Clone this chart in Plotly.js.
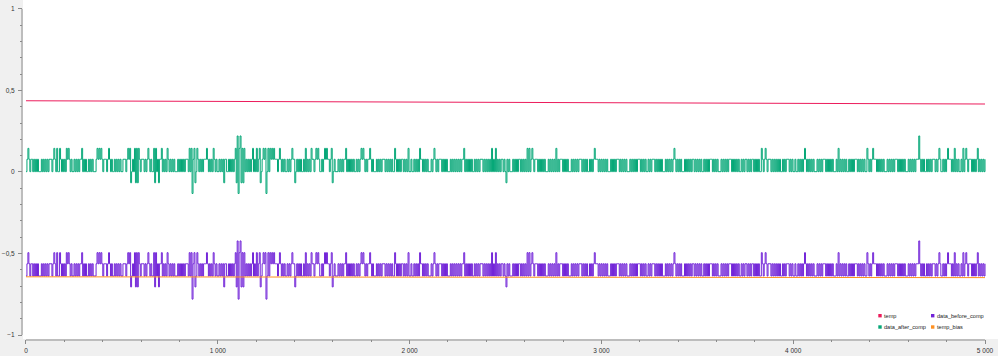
<!DOCTYPE html>
<html>
<head>
<meta charset="utf-8">
<script src="https://cdn.plot.ly/plotly-3.0.1.min.js"></script>
<style>
html,body{margin:0;padding:0;background:#f0f0f0;}
#chart{width:998px;height:356px;}
</style>
</head>
<body>
<div id="chart"></div>
<script>
// ---------------- data ----------------
const seriesNames = ["temp", "data_before_comp", "data_after_comp", "temp_bias"];
const xMax = 5000;

// temp: slow decline
const tempX = [0, 1000, 2000, 3000, 3500, 4000, 4500, 5000];
const tempY = [0.437, 0.433, 0.430, 0.427, 0.425, 0.423, 0.420, 0.417];

// temp_bias: almost constant
const biasX = [0, 2500, 5000];
const biasY = [-0.643, -0.645, -0.648];

// quantised levels of the two compensated signals (code 1..6)
const afterLevels  = [-0.132, -0.066, 0.002, 0.078, 0.145, 0.221];
const beforeLevels = [-0.780, -0.705, -0.638, -0.563, -0.495, -0.423];

// base toggling pattern, one code per ~5 samples (3 = low, 4 = high)
const baseCodes = [
"34343443434343334343434344434343433343434344343433",
"43434344434343343434333434343434443434343343434343",
"34443434343433434343444343434343343434344434343343",
"43434333434343434443434343433434343444343434334343",
"34343434433434343444343433343434343443434343334343",
"43433434344434343434334343434443434343343434343444",
"34343433434343443434343334343434443434343433434344",
"43434344343433343434344434343434333434343443434343",
"34334343434443434343334343434344434343433343434343",
"43434443434343433434343444343434343334343434344343",
"34343334343434434343433343434344434343434333434343",
"43434344434343433343434343444343434334343434443434",
"34343433343434344434343434333434343434443434343343",
"43444343434343334343434344434343433343434343443434",
"34343343434344434343433343434343444343434343343434",
"43434344343434333434343444343434343433434344434343",
"34334343434443434343433343434344434343434333434343",
"43434334343434443434343433343434344434343434333434",
"34343444343434343334343434344434343433434343444343",
"43433434343444343434343343434343444343434334343434"
].join("");

// spikes: sample position and level code
const spikeAt = [10,145,160,175,210,220,290,370,380,390,430,530,540,545,565,570,575,580,585,635,665,670,675,690,705,735,850,860,865,875,880,890,940,975,
1030,1090,1095,1100,1105,1110,1115,1120,1125,1130,1135,1180,1200,1215,1220,1235,1245,1250,1260,1270,1280,1290,1320,1385,1400,1455,1485,1510,1520,1555,1565,1590,1595,1665,1745,1755,1790,1920,1990,
2050,2125,2280,2425,2445,2505,2615,2625,2640,2765,2965,
3380,3835,3855,
4060,4235,4385,4415,4655,4760,4805,4840,4885,4900,4960];
const spikeCode = [5,5,5,5,5,5,5,5,5,5,5,5,5,2,5,2,5,2,5,5,5,2,5,2,5,5,5,5,1,5,2,5,5,5,
2,5,2,6,1,5,6,2,5,2,5,5,5,5,2,5,5,1,5,5,5,5,5,5,2,5,5,5,5,5,5,5,2,5,5,5,5,5,5,
5,5,5,5,5,2,5,5,5,5,5,
5,5,5,
5,5,5,5,6,5,5,5,5,5,5];

// ---------------- build series ----------------
const codes = baseCodes.split("").map(Number);
const n = codes.length;
for (let k = 0; k < spikeAt.length; k++) {
  const idx = Math.round(spikeAt[k] / xMax * (n - 1));
  codes[idx] = spikeCode[k];
}
const compX = codes.map((c, i) => i * xMax / (n - 1));
const afterY = codes.map(c => afterLevels[c - 1]);
const beforeY = codes.map(c => beforeLevels[c - 1]);

const colors = {temp: "#ec1c5c", before: "#7224d8", after: "#05a777", bias: "#ff9020"};

const traces = [
  {x: tempX, y: tempY, mode: "lines", name: seriesNames[0], line: {color: colors.temp, width: 1}},
  {x: compX, y: beforeY, mode: "lines", name: seriesNames[1], line: {color: colors.before, width: 1, shape: "hv", simplify: false}},
  {x: compX, y: afterY, mode: "lines", name: seriesNames[2], line: {color: colors.after, width: 1, shape: "hv", simplify: false}},
  {x: biasX, y: biasY, mode: "lines", name: seriesNames[3], line: {color: colors.bias, width: 1}}
];

// ---------------- layout ----------------
const L = 23, T = 0, W = 975, H = 339;
const xRange = [-15.6, 5067.8];
const yRange = [-1.0245, 1.055];
const px = p => (p - L) / W;
const py = p => (T + H - p) / H;
const dx = v => (v - xRange[0]) / (xRange[1] - xRange[0]);
const dy = v => (v - yRange[0]) / (yRange[1] - yRange[0]);

const axisColor = "#8a8a8a";
const tickFont = {family: "Liberation Sans, Arial, sans-serif", size: 6.5, color: "#333333"};

const shapes = [
  {type: "line", xref: "paper", yref: "paper", x0: px(22), x1: px(22), y0: dy(-1), y1: dy(1), line: {color: axisColor, width: 1}},
  {type: "line", xref: "paper", yref: "paper", x0: dx(0), x1: dx(xMax), y0: py(340), y1: py(340), line: {color: axisColor, width: 1}}
];
const annotations = [];
const legendPos = [[878.3, 315.7], [931, 315.7], [878.3, 327], [931, 327]];
const legendCols = [colors.temp, colors.before, colors.after, colors.bias];
for (let i = 0; i < 4; i++) {
  const [lx, ly] = legendPos[i];
  shapes.push({type: "rect", xref: "paper", yref: "paper", x0: px(lx), x1: px(lx + 3.4), y0: py(ly - 1.7), y1: py(ly + 1.7),
    fillcolor: legendCols[i], line: {width: 0}});
  annotations.push({xref: "paper", yref: "paper", x: px(lx + 5), y: py(ly), xanchor: "left", yanchor: "middle",
    text: seriesNames[i], showarrow: false, font: {family: "Liberation Sans, Arial, sans-serif", size: 5.6, color: "#222222"}, borderpad: 0});
}

const layout = {
  width: 998, height: 356,
  margin: {l: L, r: 998 - L - W, t: T, b: 356 - T - H, pad: 0},
  paper_bgcolor: "#f0f0f0",
  plot_bgcolor: "#ffffff",
  showlegend: false,
  separators: ", ",
  xaxis: {
    range: xRange, tickmode: "linear", tick0: 0, dtick: 1000,
    ticks: "outside", ticklen: 4, tickcolor: axisColor, tickwidth: 1,
    showgrid: false, zeroline: false, showline: false, separatethousands: true,
    tickfont: tickFont, ticklabelstandoff: 1,
    minor: {dtick: 200, tick0: 0, ticks: "outside", ticklen: 2, tickcolor: axisColor, showgrid: false}
  },
  yaxis: {
    range: yRange, tickmode: "linear", tick0: 0, dtick: 0.5,
    ticks: "outside", ticklen: 4, tickcolor: axisColor, tickwidth: 1,
    showgrid: false, zeroline: false, showline: false,
    tickfont: tickFont, ticklabelstandoff: 2,
    minor: {dtick: 0.1, tick0: 0, ticks: "outside", ticklen: 2, tickcolor: axisColor, showgrid: false}
  },
  shapes: shapes,
  annotations: annotations
};

Plotly.newPlot("chart", traces, layout, {displayModeBar: false, staticPlot: true});
</script>
</body>
</html>
